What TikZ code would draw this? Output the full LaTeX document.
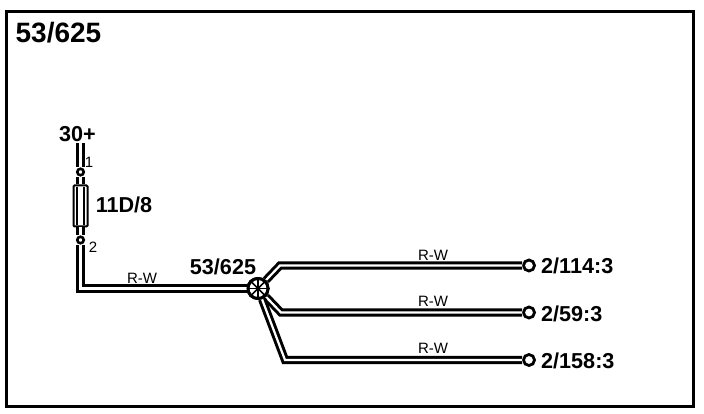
\documentclass[tikz,border=0pt]{standalone}
\usepackage{fontspec}
\setmainfont{Liberation Sans}
\tikzset{
  wire/.style={line width=3pt,double=white,double distance=2.2pt,line join=miter},
  pin/.style={circle,draw,line width=2.6pt,fill=white,inner sep=0pt,minimum size=6.5pt},
  endpin/.style={circle,draw,line width=2.8pt,fill=white,inner sep=0pt,minimum size=11pt},
  splicenode/.style={circle,draw,line width=3pt,fill=white,inner sep=0pt,minimum size=20pt},
  fusebox/.style={rectangle,draw,line width=2pt,rounded corners=1pt,fill=white,inner sep=0pt,minimum width=14pt,minimum height=41pt},
  bigtext/.style={inner sep=0pt,font=\bfseries\fontsize{21.6}{22}\selectfont},
  smalltext/.style={inner sep=0pt,font=\fontsize{15}{15}\selectfont}
}
\begin{document}
\begin{tikzpicture}[x=1pt,y=-1pt]
  \useasboundingbox (0,0) rectangle (704,414);

  %frame
  \draw[line width=3pt] (6.5,11.5) rectangle (693.5,406.5);
  \node[bigtext,font=\bfseries\fontsize{28}{28}\selectfont] (title) at (58.5,33) {53/625};

  %fuse side
  \node[bigtext] (plus) at (77.5,134) {30+};
  \coordinate (top) at (80.5,143);
  \node[pin] (pin1) at (80.5,172) {};
  \node[fusebox] (fuse) at (80.5,206) {};
  \node[pin] (pin2) at (80.5,240) {};
  \coordinate (corner) at (80.5,288.5);
  \node[splicenode] (splice) at (258,288.5) {};

  \draw[wire] (top) -- (pin1);
  \draw[wire] (pin1) -- (fuse);
  \draw[wire] (fuse) -- (pin2);
  \draw[wire] (pin2) -- (corner) -- (splice);
  \draw[line width=1.4pt] ([xshift=-3.4pt,yshift=-2.5pt]fuse.north) -- ([xshift=-3.4pt,yshift=2.5pt]fuse.south);
  \draw[line width=1.4pt] ([xshift=3.4pt,yshift=-2.5pt]fuse.north) -- ([xshift=3.4pt,yshift=2.5pt]fuse.south);

  \node[smalltext] (one) at (89,162) {1};
  \node[smalltext] (two) at (93,247) {2};
  \node[bigtext] (fusename) at (124,205) {11D/8};
  \node[bigtext] (splicename) at (223,267) {53/625};
  \node[smalltext] (wire0) at (142,278) {R-W};

  %branches
  \node[endpin] (end1) at (529,265.5) {};
  \node[endpin] (end2) at (529,312.5) {};
  \node[endpin] (end3) at (529,360) {};
  \coordinate (bend1) at (280,265.5);
  \coordinate (bend2) at (281,312.5);
  \coordinate (bend3) at (285,360);

  \draw[wire] (splice) -- (bend1) -- (end1);
  \draw[wire] (splice) -- (bend2) -- (end2);
  \draw[wire] (splice) -- (bend3) -- (end3);

  \node[splicenode] (splicetop) at (splice) {};
  \foreach \a in {0,45,...,315}
    \draw[line width=1.6pt] (splicetop.center) -- (splicetop.\a);

  \node[smalltext] (wire1) at (433,255) {R-W};
  \node[smalltext] (wire2) at (433,301) {R-W};
  \node[smalltext] (wire3) at (433,348) {R-W};
  \node[bigtext,anchor=west] (name1) at (541,266) {2/114:3};
  \node[bigtext,anchor=west] (name2) at (541,314) {2/59:3};
  \node[bigtext,anchor=west] (name3) at (541,361) {2/158:3};
\end{tikzpicture}
\end{document}
